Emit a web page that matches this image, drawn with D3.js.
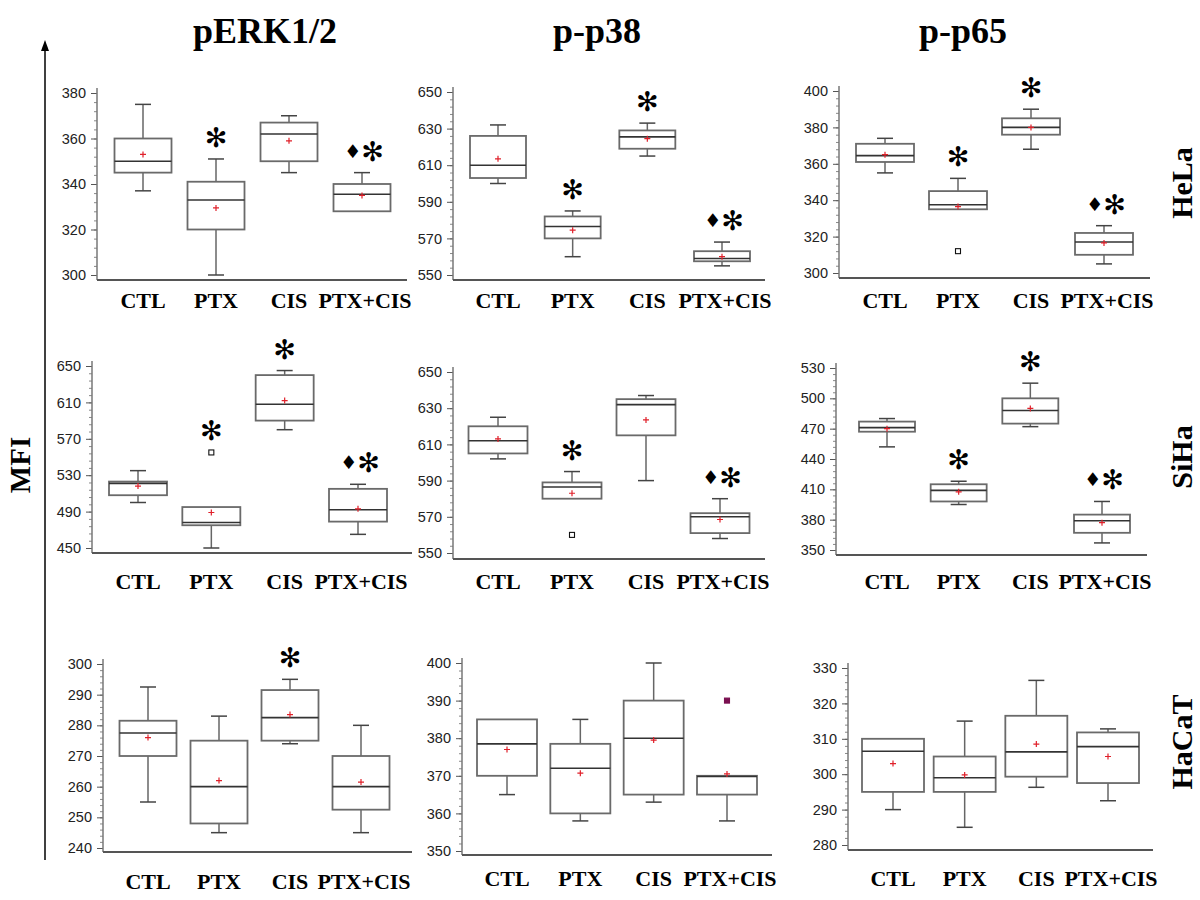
<!DOCTYPE html>
<html><head><meta charset="utf-8">
<script src="https://cdn.jsdelivr.net/npm/d3@7"></script>
<style>body{margin:0;background:#fff}</style>
</head><body><svg id="c" width="1200" height="900"></svg>
<script>
const categories = ["CTL","PTX","CIS","PTX+CIS"];
const columnTitles = ["pERK1/2","p-p38","p-p65"];
const rowLabels = ["HeLa","SiHa","HaCaT"];
const yAxisTitle = "MFI";

// box stats per category: [whiskerLow, q1, median, q3, whiskerHigh]
const erkHeLaBox = [[337,345,350,360,375],[300,320,333,341,351],[345,350,362,367,370],[328,328,335.5,340,345]];
const erkHeLaMean = [353,329.5,359,335];
const erkHeLaOutliers = [[],[],[],[]];
const erkHeLaMarks = ["","*","","♦*"];
const erkHeLaTicks = [300,320,340,360,380];

const p38HeLaBox = [[600,603,610,626,632],[560,570,576.5,582,585],[615,619,625.5,629,633],[555,557.5,559,563,568]];
const p38HeLaMean = [613.5,574.5,624.5,560];
const p38HeLaOutliers = [[],[],[],[]];
const p38HeLaMarks = ["","*","*","♦*"];
const p38HeLaTicks = [550,570,590,610,630,650];

const p65HeLaBox = [[355,361,364.5,371,374],[335,335,337.5,345,352],[368,376,380,385,390],[305,310,317,322,326]];
const p65HeLaMean = [365,336.5,380,316.5];
const p65HeLaOutliers = [[],[312],[],[]];
const p65HeLaMarks = ["","*","*","♦*"];
const p65HeLaTicks = [300,320,340,360,380,400];

const erkSiHaBox = [[500,508,521,523,535],[450,475,478,495,495],[580,590,608,640,645],[465,479,492,515,520]];
const erkSiHaMean = [518,489,612,493];
const erkSiHaOutliers = [[],[555],[],[]];
const erkSiHaMarks = ["","*","*","♦*"];
const erkSiHaTicks = [450,490,530,570,610,650];

const p38SiHaBox = [[602,605,612,620,625],[580,580,586.5,589,595],[590,615,632,635,637],[558,561,570,572,580]];
const p38SiHaMean = [613,583,623.5,568.5];
const p38SiHaOutliers = [[],[560],[],[]];
const p38SiHaMarks = ["","*","","♦*"];
const p38SiHaTicks = [550,570,590,610,630,650];

const p65SiHaBox = [[452,467,471,477,480],[395,398,409,415,418],[472,475,488,500,515],[357,367,379,385,398]];
const p65SiHaMean = [470,407.5,490,377];
const p65SiHaOutliers = [[],[],[],[]];
const p65SiHaMarks = ["","*","*","♦*"];
const p65SiHaTicks = [350,380,410,440,470,500,530];

const erkHaCaTBox = [[255,270,277.5,281.5,292.5],[245,248,260,275,283],[274,275,282.5,291.5,295],[245,252.5,260,270,280]];
const erkHaCaTMean = [276,262,283.5,261.5];
const erkHaCaTOutliers = [[],[],[],[]];
const erkHaCaTMarks = ["","","*",""];
const erkHaCaTTicks = [240,250,260,270,280,290,300];

const p38HaCaTBox = [[365,370,378.5,385,385],[358,360,372,378.5,385],[363,365,380,390,400],[358,365,369.8,370,370]];
const p38HaCaTMean = [377,370.7,379.5,370.5];
const p38HaCaTOutliers = [[],[],[],[390]];
const p38HaCaTMarks = ["","","",""];
const p38HaCaTTicks = [350,360,370,380,390,400];

const p65HaCaTBox = [[290,295,306.5,310,310],[285,295,299,305,315],[296.3,299.3,306.3,316.5,326.5],[292.5,297.5,307.8,311.8,312.8]];
const p65HaCaTMean = [303,299.8,308.5,305];
const p65HaCaTOutliers = [[],[],[],[]];
const p65HaCaTMarks = ["","","",""];
const p65HaCaTTicks = [280,290,300,310,320,330];

const panels = [
 {box:erkHeLaBox, mean:erkHeLaMean, out:erkHeLaOutliers, marks:erkHeLaMarks, ticks:erkHeLaTicks},
 {box:p38HeLaBox, mean:p38HeLaMean, out:p38HeLaOutliers, marks:p38HeLaMarks, ticks:p38HeLaTicks},
 {box:p65HeLaBox, mean:p65HeLaMean, out:p65HeLaOutliers, marks:p65HeLaMarks, ticks:p65HeLaTicks},
 {box:erkSiHaBox, mean:erkSiHaMean, out:erkSiHaOutliers, marks:erkSiHaMarks, ticks:erkSiHaTicks},
 {box:p38SiHaBox, mean:p38SiHaMean, out:p38SiHaOutliers, marks:p38SiHaMarks, ticks:p38SiHaTicks},
 {box:p65SiHaBox, mean:p65SiHaMean, out:p65SiHaOutliers, marks:p65SiHaMarks, ticks:p65SiHaTicks},
 {box:erkHaCaTBox, mean:erkHaCaTMean, out:erkHaCaTOutliers, marks:erkHaCaTMarks, ticks:erkHaCaTTicks},
 {box:p38HaCaTBox, mean:p38HaCaTMean, out:p38HaCaTOutliers, marks:p38HaCaTMarks, ticks:p38HaCaTTicks},
 {box:p65HaCaTBox, mean:p65HaCaTMean, out:p65HaCaTOutliers, marks:p65HaCaTMarks, ticks:p65HaCaTTicks}
];

// layout (pixels)
const layout = [
 {ax:97, xe:407, yt:93, yb:275, base:280, c0:143, c3:362, bw:57, lab:308},
 {ax:453, xe:765, yt:92, yb:275, base:280, c0:498, c3:722, bw:56, lab:308},
 {ax:839, xe:1150, yt:91, yb:273, base:278, c0:885, c3:1104, bw:58, lab:308},
 {ax:92, xe:412, yt:366, yb:548, base:553, c0:138, c3:358, bw:58, lab:589},
 {ax:453, xe:765, yt:372, yb:553, base:559, c0:498, c3:720, bw:59, lab:589},
 {ax:836, xe:1147, yt:368, yb:550, base:555, c0:887, c3:1102, bw:56, lab:589},
 {ax:103, xe:412, yt:664, yb:848, base:852, c0:148, c3:361, bw:57, lab:889},
 {ax:462, xe:772, yt:663, yb:851, base:855, c0:507, c3:727, bw:60, lab:886},
 {ax:848, xe:1153, yt:668, yb:845, base:850, c0:893, c3:1108, bw:62, lab:886}
];
const titleX = [265, 597, 963];
const rowY = [183, 457, 742];

const svg = d3.select("#c");
const serif = "'Liberation Serif','Times New Roman',serif";
const sans = "'Liberation Sans',Arial,sans-serif";

// column titles
svg.selectAll("text.ct").data(columnTitles).join("text")
  .attr("x",(d,i)=>titleX[i]).attr("y",43).attr("text-anchor","middle")
  .attr("font-family",serif).attr("font-weight","bold").attr("font-size",36).text(d=>d);
// row labels
svg.selectAll("text.rl").data(rowLabels).join("text")
  .attr("transform",(d,i)=>`translate(1192,${rowY[i]}) rotate(-90)`)
  .attr("text-anchor","middle").attr("font-family",serif).attr("font-weight","bold")
  .attr("font-size",30).text(d=>d);
// MFI + arrow
svg.append("text").attr("transform","translate(30,465) rotate(-90)").attr("text-anchor","middle")
  .attr("font-family",serif).attr("font-weight","bold").attr("font-size",29).text(yAxisTitle);
svg.append("line").attr("x1",45).attr("x2",45).attr("y1",48).attr("y2",860).attr("stroke","#000").attr("stroke-width",1.5);
svg.append("path").attr("d","M45,40 L41,51 L49,51 Z").attr("fill","#000");

panels.forEach((p,i)=>{
  const L = layout[i];
  const g = svg.append("g");
  const t = p.ticks;
  const y = d3.scaleLinear().domain([t[0], t[t.length-1]]).range([L.yb, L.yt]);
  const x = d3.scalePoint().domain(categories).range([L.c0, L.c3]);
  const stepT = t[1]-t[0];
  const minor = d3.range(t[0], t[t.length-1]+1e-9, stepT/5);
  // minor ticks
  g.append("g").attr("transform",`translate(${L.ax},0)`)
    .call(d3.axisLeft(y).tickValues(minor).tickSize(3).tickFormat(""))
    .call(s=>s.select(".domain").remove())
    .call(s=>s.selectAll("line").attr("stroke","#888"));
  // major ticks
  g.append("g").attr("transform",`translate(${L.ax},0)`)
    .call(d3.axisLeft(y).tickValues(t).tickSize(6).tickPadding(5).tickFormat(d3.format("d")))
    .call(s=>s.select(".domain").remove())
    .call(s=>s.selectAll("line").attr("stroke","#555"))
    .call(s=>s.selectAll("text").attr("font-family",sans).attr("font-size",14.5).attr("fill","#222"));
  // axis lines
  g.append("line").attr("x1",L.ax).attr("x2",L.ax).attr("y1",L.base).attr("y2",L.yt-5)
    .attr("stroke","#777").attr("stroke-width",1.5);
  g.append("line").attr("x1",L.ax).attr("x2",L.xe).attr("y1",L.base).attr("y2",L.base)
    .attr("stroke","#555").attr("stroke-width",2);
  // category labels
  g.selectAll("text.cat").data(categories).join("text")
    .attr("x",(d,k)=>x(d)+(k===3?3:0)).attr("y",L.lab).attr("text-anchor","middle")
    .attr("font-family",serif).attr("font-weight","bold").attr("font-size",22).text(d=>d);
  // boxes
  categories.forEach((c,k)=>{
    const [lo,q1,md,q3,hi] = p.box[k];
    const cx = x(c), hw = L.bw/2, cap = 8;
    const bg = g.append("g").attr("fill","none");
    if (hi>q3) {
      bg.append("line").attr("x1",cx).attr("x2",cx).attr("y1",y(q3)).attr("y2",y(hi)).attr("stroke","#666").attr("stroke-width",1.5);
      bg.append("line").attr("x1",cx-cap).attr("x2",cx+cap).attr("y1",y(hi)).attr("y2",y(hi)).attr("stroke","#444").attr("stroke-width",1.5);
    }
    if (lo<q1) {
      bg.append("line").attr("x1",cx).attr("x2",cx).attr("y1",y(q1)).attr("y2",y(lo)).attr("stroke","#666").attr("stroke-width",1.5);
      bg.append("line").attr("x1",cx-cap).attr("x2",cx+cap).attr("y1",y(lo)).attr("y2",y(lo)).attr("stroke","#444").attr("stroke-width",1.5);
    }
    bg.append("rect").attr("x",cx-hw).attr("y",y(q3)).attr("width",L.bw).attr("height",y(q1)-y(q3))
      .attr("fill","#fff").attr("stroke","#6a6a6a").attr("stroke-width",1.8);
    bg.append("line").attr("x1",cx-hw).attr("x2",cx+hw).attr("y1",y(md)).attr("y2",y(md))
      .attr("stroke","#333").attr("stroke-width",1.6);
    // outliers
    p.out[k].forEach(o=>{
      bg.append("rect").attr("x",cx-2.5).attr("y",y(o)-2.5).attr("width",5).attr("height",5)
        .attr("fill", i===7 ? "#7a1050" : "#fff").attr("stroke", i===7 ? "#7a1050" : "#111").attr("stroke-width",1.1);
    });
    // mean
    const my = y(p.mean[k]);
    bg.append("path").attr("d",`M${cx-3},${my}H${cx+3}M${cx},${my-3}V${my+3}`)
      .attr("stroke","#e0202a").attr("stroke-width",1.2);
    // significance marks
    const m = p.marks[k];
    if (m) {
      const topVal = Math.max(hi, ...p.out[k]);
      const sy = y(topVal) - 22;
      const tx = g.append("text").attr("x",cx+(m.length>1?2:0)).attr("y",sy).attr("text-anchor","middle")
        .attr("dominant-baseline","central").attr("font-family","'DejaVu Sans',sans-serif");
      if (m.includes("♦")) tx.append("tspan").attr("font-size",19).text("♦");
      tx.append("tspan").attr("font-size",27).attr("font-weight","bold").text("✻");
    }
  });
});
</script></body></html>
